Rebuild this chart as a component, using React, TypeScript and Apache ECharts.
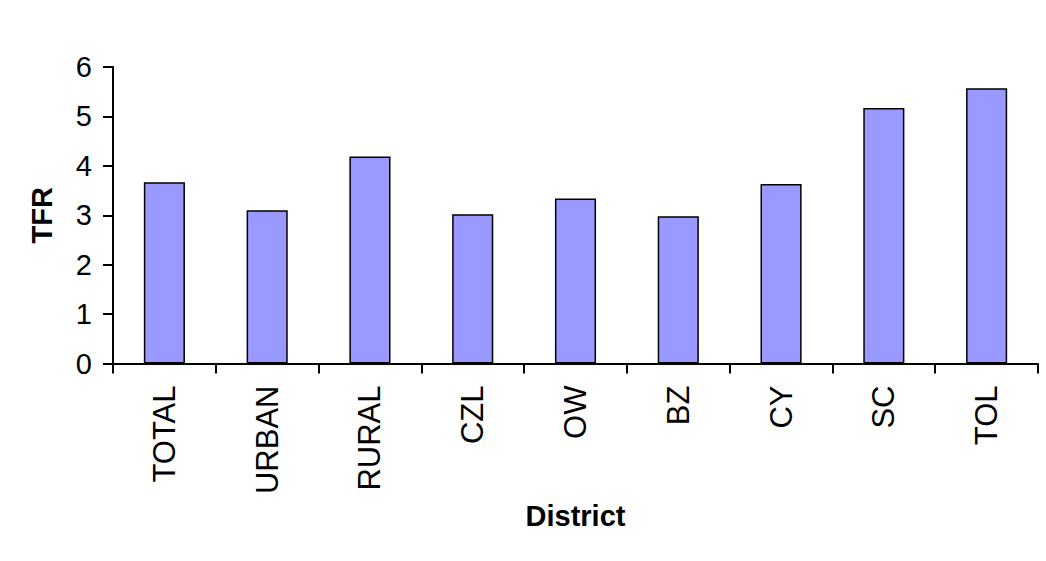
import React, { useEffect, useRef } from "react";
import * as echarts from "echarts";

const categories = ["TOTAL", "URBAN", "RURAL", "CZL", "OW", "BZ", "CY", "SC", "TOL"];
const tfrValues = [3.67, 3.1, 4.19, 3.02, 3.34, 2.98, 3.63, 5.17, 5.57];
const yTicks = { min: 0, max: 6, interval: 1 };

const FONT = "Arial, 'Liberation Sans', Helvetica, sans-serif";

export default function App() {
  const ref = useRef<HTMLDivElement>(null);
  useEffect(() => {
    if (!ref.current) return;
    const chart = echarts.init(ref.current, null, { renderer: "svg" });
    chart.setOption({
      animation: false,
      backgroundColor: "#ffffff",
      grid: { left: 113, right: 8, top: 67, bottom: 197.5, containLabel: false },
      xAxis: {
        type: "category",
        data: categories,
        name: "District",
        nameLocation: "middle",
        nameGap: 136,
        nameTextStyle: { fontFamily: FONT, fontSize: 29, fontWeight: "bold", color: "#000" },
        axisLine: { lineStyle: { color: "#000", width: 2 } },
        axisTick: { show: true, length: 10, lineStyle: { color: "#000", width: 2 }, alignWithLabel: false },
        axisLabel: { rotate: 90, margin: 22, fontFamily: FONT, fontSize: 31, color: "#000", interval: 0 },
        splitLine: { show: false },
      },
      yAxis: {
        type: "value",
        min: yTicks.min,
        max: yTicks.max,
        interval: yTicks.interval,
        name: "TFR",
        nameLocation: "middle",
        nameRotate: 90,
        nameGap: 57,
        nameTextStyle: { fontFamily: FONT, fontSize: 29, fontWeight: "bold", color: "#000" },
        axisLine: { show: true, lineStyle: { color: "#000", width: 2 } },
        axisTick: { show: true, length: 10, lineStyle: { color: "#000", width: 2 } },
        axisLabel: { margin: 21, fontFamily: FONT, fontSize: 29, color: "#000" },
        splitLine: { show: false },
      },
      series: [
        {
          type: "bar",
          data: tfrValues,
          barWidth: "40%",
          itemStyle: { color: "#9999FF", borderColor: "#000", borderWidth: 1.5 },
        },
      ],
    });
    return () => chart.dispose();
  }, []);
  return <div ref={ref} style={{ width: 1046, height: 561, position: "absolute", left: 0, top: 0 }} />;
}
